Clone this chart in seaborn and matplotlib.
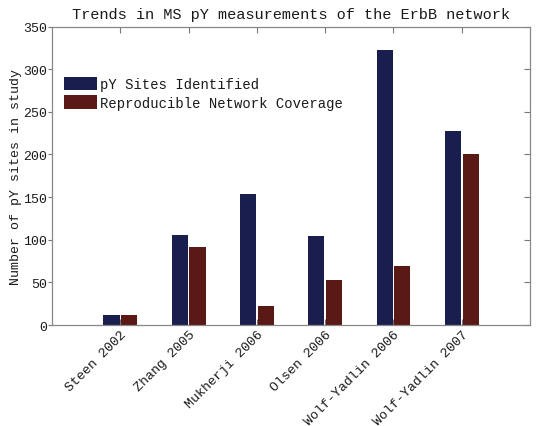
import numpy as np
import pandas as pd
import matplotlib
matplotlib.use('Agg')
import matplotlib.pyplot as plt
import seaborn as sns

studies = ['Steen 2002', 'Zhang 2005', 'Mukherji 2006', 'Olsen 2006',
           'Wolf-Yadlin 2006', 'Wolf-Yadlin 2007']
sites_identified = [12, 105, 154, 104, 323, 227]
network_coverage = [12, 92, 22, 53, 69, 200]
series = ['pY Sites Identified', 'Reproducible Network Coverage']

df = pd.DataFrame({
    'study': studies * 2,
    'count': sites_identified + network_coverage,
    'series': [series[0]] * len(studies) + [series[1]] * len(studies),
})

sns.set_style('white')
plt.rcParams['font.family'] = ['Liberation Mono', 'DejaVu Sans Mono']
txt = '#1a1a1a'

fig = plt.figure(figsize=(5.37, 4.27), dpi=100)
ax = fig.add_axes([0.097, 0.2365, 0.890, 0.699])

sns.barplot(data=df, x='study', y='count', hue='series', order=studies,
            hue_order=series, palette=['#1a1e4e', '#5a1914'],
            width=0.52, gap=0.09, saturation=1, edgecolor='none', ax=ax)

ax.set_xlim(-1, 6)
ax.set_ylim(0, 350)
ax.set_yticks(range(0, 351, 50))
ax.set_xlabel('')
ax.set_ylabel('Number of pY sites in study', fontsize=9.5, color=txt)
ax.yaxis.set_label_coords(-0.062, 0.5)
ax.set_title('Trends in MS pY measurements of the ErbB network',
             fontsize=11, color=txt, pad=6)
ax.set_xticks(range(len(studies)))
ax.set_xticklabels(studies, rotation=45, ha='right', rotation_mode='anchor',
                   fontsize=9.5, color=txt)
ax.tick_params(axis='y', labelsize=9.5, labelcolor=txt)
ax.tick_params(axis='x', direction='in', length=4, color='#777777',
               top=True, bottom=True, pad=2)
ax.tick_params(axis='y', which='both', right=True, left=True,
               direction='in', length=4, color='#777777')
# short outward ticks on the left, inward on the right
for t in ax.yaxis.get_major_ticks():
    t.tick1line.set_markersize(3)
    t.tick1line.set_marker(matplotlib.lines.TICKLEFT)
for s in ax.spines.values():
    s.set_color('#888888')
    s.set_linewidth(0.9)

ax.legend(loc='upper left', bbox_to_anchor=(0.025, 0.832), frameon=False,
          fontsize=10, handlelength=2.4, handleheight=1.15,
          handletextpad=0.2, labelspacing=0.3, borderpad=0,
          borderaxespad=0)
for t in ax.get_legend().get_texts():
    t.set_color(txt)

fig.savefig('out.png', dpi=100)
